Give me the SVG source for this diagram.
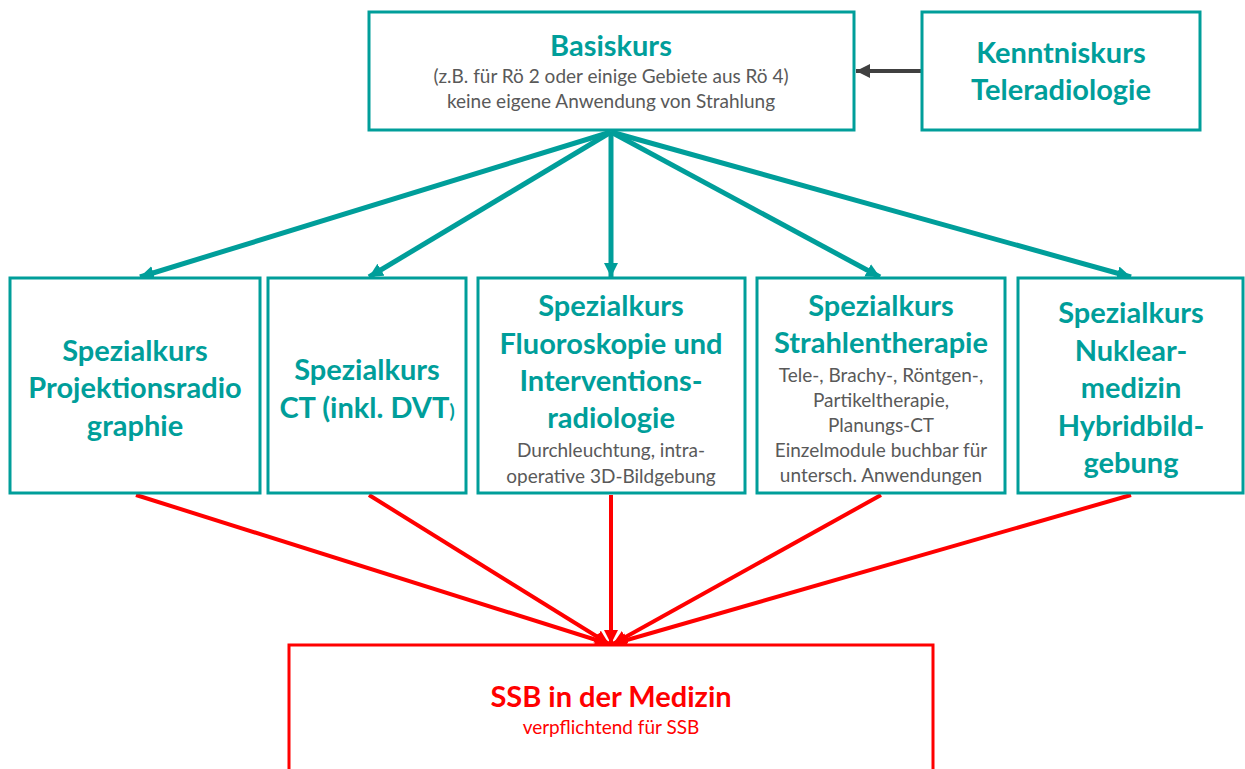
<svg xmlns="http://www.w3.org/2000/svg" width="1245" height="769" viewBox="0 0 1245 769">
<style>
.box{fill:#fff;stroke:#009E9A;stroke-width:3}
.rbox{fill:#fff;stroke:#FF0000;stroke-width:3}
.t{font-family:Lato,"Open Sans",sans-serif;font-weight:bold;fill:#009E9A;text-anchor:middle;font-size:29px}
.s{font-family:Lato,"Open Sans",sans-serif;fill:#595959;text-anchor:middle;font-size:19px}
.rt{font-family:Lato,"Open Sans",sans-serif;font-weight:bold;fill:#FF0000;text-anchor:middle;font-size:29px}
.rs{font-family:Lato,"Open Sans",sans-serif;fill:#FF0000;text-anchor:middle;font-size:19px}
.ta{stroke:#009E9A;stroke-width:5;fill:none;marker-end:url(#mt)}
.ra{stroke:#FF0000;stroke-width:4;fill:none;marker-end:url(#mr)}
</style>
<defs>
<marker id="mt" markerUnits="userSpaceOnUse" markerWidth="20" markerHeight="20" refX="14" refY="7" orient="auto" viewBox="0 0 20 20"><path d="M0,0 L14,7 L0,14 Z" fill="#009E9A"/></marker>
<marker id="mr" markerUnits="userSpaceOnUse" markerWidth="20" markerHeight="20" refX="14" refY="7" orient="auto" viewBox="0 0 20 20"><path d="M0,0 L14,7 L0,14 Z" fill="#FF0000"/></marker>
<marker id="md" markerUnits="userSpaceOnUse" markerWidth="20" markerHeight="20" refX="14" refY="7" orient="auto" viewBox="0 0 20 20"><path d="M0,0 L14,7 L0,14 Z" fill="#404040"/></marker>
</defs>
<g id="connectors">
<line x1="922" y1="71" x2="856" y2="71" stroke="#404040" stroke-width="4" marker-end="url(#md)"/>
<line class="ta" x1="611" y1="132" x2="140" y2="277"/>
<line class="ta" x1="611" y1="132" x2="369" y2="277"/>
<line class="ta" x1="611" y1="132" x2="611" y2="277"/>
<line class="ta" x1="611" y1="132" x2="880" y2="277"/>
<line class="ta" x1="611" y1="132" x2="1131" y2="277"/>
<line class="ra" x1="136" y1="495" x2="609" y2="644"/>
<line class="ra" x1="369" y1="495" x2="609" y2="644"/>
<line class="ra" x1="611" y1="495" x2="611" y2="644"/>
<line class="ra" x1="881" y1="495" x2="613" y2="644"/>
<line class="ra" x1="1131" y1="495" x2="613" y2="644"/>
</g>
<g id="basiskurs">
<rect class="box" x="369" y="12" width="485" height="118"/>
<text class="t" x="611" y="56">Basiskurs</text>
<text class="s" x="611" y="83">(z.B. für Rö 2 oder einige Gebiete aus Rö 4)</text>
<text class="s" x="611" y="108">keine eigene Anwendung von Strahlung</text>
</g>
<g id="kenntniskurs">
<rect class="box" x="922" y="12" width="278" height="118"/>
<text class="t" x="1061" y="63">Kenntniskurs</text>
<text class="t" x="1061" y="100">Teleradiologie</text>
</g>
<g id="projektion">
<rect class="box" x="10" y="278" width="250" height="215"/>
<text class="t" x="135" y="361">Spezialkurs</text>
<text class="t" x="135" y="398">Projektionsradio</text>
<text class="t" x="135" y="436">graphie</text>
</g>
<g id="ct">
<rect class="box" x="268" y="278" width="198" height="215"/>
<text class="t" x="367" y="380">Spezialkurs</text>
<text class="t" x="367" y="418">CT (inkl. DVT<tspan font-size="19px">)</tspan></text>
</g>
<g id="fluoroskopie">
<rect class="box" x="478" y="278" width="267" height="215"/>
<text class="t" x="611" y="316">Spezialkurs</text>
<text class="t" x="611" y="354">Fluoroskopie und</text>
<text class="t" x="611" y="391">Interventions-</text>
<text class="t" x="611" y="428">radiologie</text>
<text class="s" x="611" y="457">Durchleuchtung, intra-</text>
<text class="s" x="611" y="483">operative 3D-Bildgebung</text>
</g>
<g id="strahlentherapie">
<rect class="box" x="757" y="278" width="248" height="215"/>
<text class="t" x="881" y="316">Spezialkurs</text>
<text class="t" x="881" y="353">Strahlentherapie</text>
<text class="s" x="881" y="382">Tele-, Brachy-, Röntgen-,</text>
<text class="s" x="881" y="407">Partikeltherapie,</text>
<text class="s" x="881" y="432">Planungs-CT</text>
<text class="s" x="881" y="457">Einzelmodule buchbar für</text>
<text class="s" x="881" y="482">untersch. Anwendungen</text>
</g>
<g id="nuklearmedizin">
<rect class="box" x="1018" y="278" width="225" height="215"/>
<text class="t" x="1131" y="323">Spezialkurs</text>
<text class="t" x="1131" y="361">Nuklear-</text>
<text class="t" x="1131" y="398">medizin</text>
<text class="t" x="1131" y="436">Hybridbild-</text>
<text class="t" x="1131" y="473">gebung</text>
</g>
<g id="ssb">
<rect class="rbox" x="289" y="645" width="644" height="140"/>
<text class="rt" x="611" y="707">SSB in der Medizin</text>
<text class="rs" x="611" y="734">verpflichtend für SSB</text>
</g>
</svg>
